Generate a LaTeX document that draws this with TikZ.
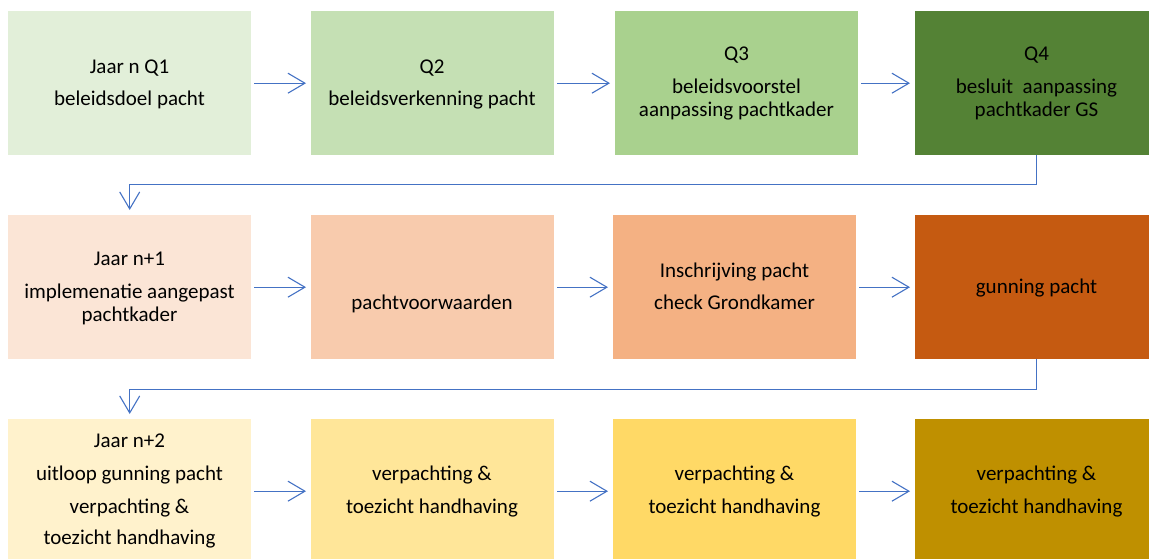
\documentclass[tikz,border=0pt]{standalone}
\usepackage{fontspec}
\setmainfont{Carlito}
\usetikzlibrary{arrows.meta}

% stage fills, one shade ramp per year
\definecolor{gA}{HTML}{E2EFD9}
\definecolor{gB}{HTML}{C5E0B4}
\definecolor{gC}{HTML}{A9D18E}
\definecolor{gD}{HTML}{548235}
\definecolor{oA}{HTML}{FBE5D6}
\definecolor{oB}{HTML}{F8CBAD}
\definecolor{oC}{HTML}{F4B183}
\definecolor{oD}{HTML}{C55A11}
\definecolor{yA}{HTML}{FFF2CC}
\definecolor{yB}{HTML}{FFE699}
\definecolor{yC}{HTML}{FFD966}
\definecolor{yD}{HTML}{BF9000}
\definecolor{flowblue}{HTML}{4472C4}

\begin{document}
\begin{tikzpicture}[x=1pt,y=-1pt,
  stage/.style={rectangle, draw=none, inner sep=0pt, anchor=north west,
                minimum width=243pt, minimum height=144pt},
  lbl/.style={anchor=base, inner sep=0pt, text=black,
              font=\fontsize{21}{23}\selectfont},
  flow/.style={draw=flowblue, line width=1.1pt,
               -{Straight Barb[length=17pt,width=20pt]},
               shorten <=3pt, shorten >=5pt},
]
\useasboundingbox (0,0) rectangle (1149,559);
\clip (0,0) rectangle (1149,559);

% year n
\node[stage, fill=gA] (s11) at (8,11) {};
\node[stage, fill=gB] (s12) at (311,11) {};
\node[stage, fill=gC] (s13) at (615,11) {};
\node[stage, fill=gD] (s14) at (915,11) {};
% year n+1
\node[stage, fill=oA] (s21) at (8,215) {};
\node[stage, fill=oB] (s22) at (311,215) {};
\node[stage, fill=oC] (s23) at (613,215) {};
\node[stage, fill=oD] (s24) at (915,215) {};
% year n+2
\node[stage, fill=yA] (s31) at (8,419) {};
\node[stage, fill=yB] (s32) at (311,419) {};
\node[stage, fill=yC] (s33) at (613,419) {};
\node[stage, fill=yD] (s34) at (915,419) {};

% labels, year n
\node[lbl] (l11a) at (129.5,74) {Jaar n Q1};
\node[lbl] (l11b) at (129.5,106) {beleidsdoel pacht};
\node[lbl] (l12a) at (432,74) {Q2};
\node[lbl] (l12b) at (432,106) {beleidsverkenning pacht};
\node[lbl] (l13a) at (736.5,61) {Q3};
\node[lbl] (l13b) at (736.5,94) {beleidsvoorstel};
\node[lbl] (l13c) at (736.5,117) {aanpassing pachtkader};
\node[lbl] (l14a) at (1036.5,61) {Q4};
\node[lbl] (l14b) at (1036.5,94) {besluit\ \ aanpassing};
\node[lbl] (l14c) at (1036.5,117) {pachtkader GS};
% labels, year n+1
\node[lbl] (l21a) at (129.5,265) {Jaar n+1};
\node[lbl] (l21b) at (129.5,298) {implemenatie aangepast};
\node[lbl] (l21c) at (129.5,321) {pachtkader};
\node[lbl] (l22a) at (432,309) {pachtvoorwaarden};
\node[lbl] (l23a) at (734.5,277) {Inschrijving pacht};
\node[lbl] (l23b) at (734.5,309) {check Grondkamer};
\node[lbl] (l24a) at (1036.5,293) {gunning pacht};
% labels, year n+2
\node[lbl] (l31a) at (129.5,447) {Jaar n+2};
\node[lbl] (l31b) at (129.5,480) {uitloop gunning pacht};
\node[lbl] (l31c) at (129.5,513) {verpachting \&};
\node[lbl] (l31d) at (129.5,544) {toezicht handhaving};
\node[lbl] (l32a) at (432,480) {verpachting \&};
\node[lbl] (l32b) at (432,513) {toezicht handhaving};
\node[lbl] (l33a) at (734.5,480) {verpachting \&};
\node[lbl] (l33b) at (734.5,513) {toezicht handhaving};
\node[lbl] (l34a) at (1036.5,480) {verpachting \&};
\node[lbl] (l34b) at (1036.5,513) {toezicht handhaving};

% steps within a year
\draw[flow] (s11.east) -- (s12.west);
\draw[flow] (s12.east) -- (s13.west);
\draw[flow] (s13.east) -- (s14.west);
\draw[flow] (s21.east) -- (s22.west);
\draw[flow] (s22.east) -- (s23.west);
\draw[flow] (s23.east) -- (s24.west);
\draw[flow] (s31.east) -- (s32.west);
\draw[flow] (s32.east) -- (s33.west);
\draw[flow] (s33.east) -- (s34.west);

% carry-over to the next year
\draw[flow, shorten <=0pt] (s14.south) -- ++(0,29) -| (s21.north);
\draw[flow, shorten <=0pt] (s24.south) -- ++(0,30) -| (s31.north);
\end{tikzpicture}
\end{document}
